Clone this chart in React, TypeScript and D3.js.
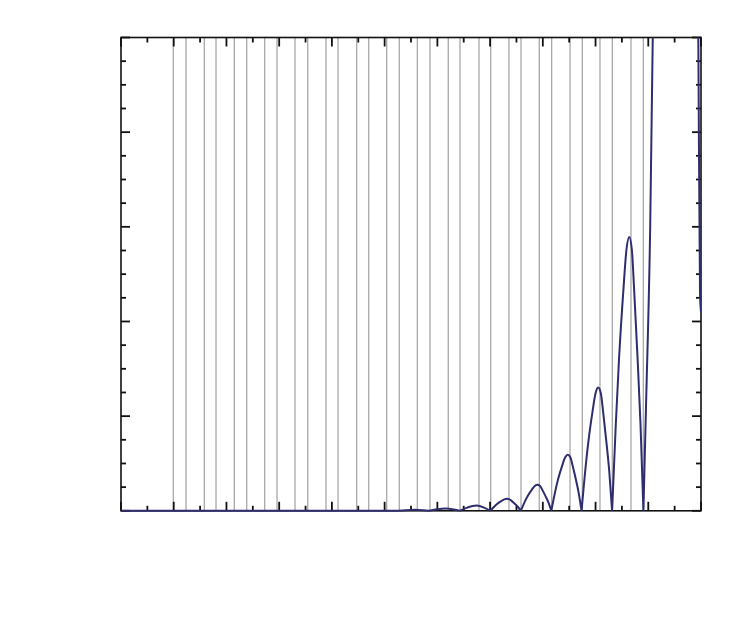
import React from "react";
import * as d3 from "d3";

// Axis tick values (labels are not shown in the reference)
const xMajorTicks = [0, 1, 2, 3, 4, 5, 6, 7, 8, 9, 10, 11];
const xMinorTicks = [0.5, 1.5, 2.5, 3.5, 4.5, 5.5, 6.5, 7.5, 8.5, 9.5, 10.5];
const yMajorTicks = [0, 1, 2, 3, 4, 5];
const yMinorTicks = [
  0.25, 0.5, 0.75, 1.25, 1.5, 1.75, 2.25, 2.5, 2.75, 3.25, 3.5, 3.75, 4.25, 4.5, 4.75,
];

// Vertical reference lines (pairs)
const gridLinesA = [
  0.992, 1.58, 2.149, 2.725, 3.3, 3.888, 4.47, 5.039, 5.62, 6.207, 6.79, 7.358, 7.933, 8.516,
  9.084, 9.672,
];
const gridLinesB = [
  1.233, 1.802, 2.384, 2.959, 3.541, 4.116, 4.698, 5.278, 5.86, 6.429, 7.012, 7.586, 8.168,
  8.749, 9.318, 9.906,
];

// Curve samples
const curveX = [
  0, 5.263,
  5.391, 5.579, 5.733, 5.841,
  5.97, 6.16, 6.315, 6.424,
  6.553, 6.741, 6.896, 7.004,
  7.072, 7.132, 7.211, 7.27, 7.32, 7.368, 7.412, 7.474, 7.529, 7.582,
  7.65, 7.711, 7.789, 7.848, 7.899, 7.947, 7.991, 8.053, 8.108, 8.161,
  8.228, 8.288, 8.366, 8.425, 8.474, 8.522, 8.566, 8.627, 8.681, 8.734,
  8.802, 8.863, 8.942, 9.001, 9.051, 9.099, 9.144, 9.206, 9.261, 9.314,
  9.384, 9.446, 9.527, 9.587, 9.639, 9.688, 9.733, 9.797, 9.853, 9.908,
  9.957, 10.037, 10.085, 10.15, 10.45, 10.75, 10.93, 10.949, 10.981, 11.0,
];
const curveY = [
  0, 0,
  0.006, 0.011, 0.006, 0,
  0.014, 0.025, 0.014, 0,
  0.031, 0.056, 0.031, 0,
  0.04, 0.071, 0.102, 0.121, 0.127, 0.121, 0.102, 0.071, 0.04, 0,
  0.087, 0.153, 0.221, 0.263, 0.275, 0.263, 0.221, 0.153, 0.087, 0,
  0.186, 0.33, 0.475, 0.565, 0.592, 0.565, 0.475, 0.33, 0.186, 0,
  0.41, 0.726, 1.046, 1.244, 1.303, 1.244, 1.046, 0.726, 0.41, 0,
  0.911, 1.611, 2.323, 2.763, 2.893, 2.763, 2.323, 1.611, 0.911, 0,
  1.1, 3.02, 5.0, 6.8, 10, 11, 6.2, 5.0, 2.3, 2.1,
];

const W = 737;
const H = 618;
const left = 121;
const right = 701;
const top = 37.5;
const bottom = 510.8;

export default function App() {
  const x = d3.scaleLinear().domain([0, 11]).range([left, right]);
  const y = d3.scaleLinear().domain([0, 5]).range([bottom, top]);

  // split the samples into lobes at the zero crossings
  const segments: [number, number][][] = [];
  let cur: [number, number][] = [];
  curveX.forEach((v, i) => {
    const p: [number, number] = [v, curveY[i]];
    cur.push(p);
    if (curveY[i] === 0 && cur.length > 1) {
      segments.push(cur);
      cur = [p];
    }
  });
  if (cur.length > 1) segments.push(cur);

  const line = d3
    .line<[number, number]>()
    .x((d) => x(d[0]))
    .y((d) => y(d[1]))
    .curve(d3.curveMonotoneX);

  const d = segments.map((s) => line(s) || "").join("");

  const majLen = 9;
  const minLen = 5;
  const axisColor = "#111";

  return (
    <svg
      width={W}
      height={H}
      style={{ position: "absolute", left: 0, top: 0, background: "#fff" }}
    >
      <defs>
        <clipPath id="plotClip">
          <rect x={left} y={top} width={right - left} height={bottom - top + 1.2} />
        </clipPath>
      </defs>
      <rect x={0} y={0} width={W} height={H} fill="#fff" />
      {/* vertical gray lines */}
      {[...gridLinesA, ...gridLinesB].map((v, i) => (
        <line
          key={"g" + i}
          x1={x(v)}
          x2={x(v)}
          y1={top}
          y2={bottom}
          stroke="#a8a8a8"
          strokeWidth={1.3}
        />
      ))}
      {/* frame */}
      <rect
        x={left}
        y={top}
        width={right - left}
        height={bottom - top}
        fill="none"
        stroke={axisColor}
        strokeWidth={1.6}
      />
      {/* x ticks (bottom & top) */}
      {xMajorTicks.map((v, i) => (
        <g key={"xm" + i}>
          <line x1={x(v)} x2={x(v)} y1={bottom} y2={bottom - majLen} stroke={axisColor} strokeWidth={1.8} />
          <line x1={x(v)} x2={x(v)} y1={top} y2={top + majLen} stroke={axisColor} strokeWidth={1.8} />
        </g>
      ))}
      {xMinorTicks.map((v, i) => (
        <g key={"xn" + i}>
          <line x1={x(v)} x2={x(v)} y1={bottom} y2={bottom - minLen} stroke={axisColor} strokeWidth={1.8} />
          <line x1={x(v)} x2={x(v)} y1={top} y2={top + minLen} stroke={axisColor} strokeWidth={1.8} />
        </g>
      ))}
      {/* y ticks (left & right) */}
      {yMajorTicks.map((v, i) => (
        <g key={"ym" + i}>
          <line x1={left} x2={left + majLen} y1={y(v)} y2={y(v)} stroke={axisColor} strokeWidth={1.8} />
          <line x1={right} x2={right - majLen} y1={y(v)} y2={y(v)} stroke={axisColor} strokeWidth={1.8} />
        </g>
      ))}
      {yMinorTicks.map((v, i) => (
        <g key={"yn" + i}>
          <line x1={left} x2={left + minLen} y1={y(v)} y2={y(v)} stroke={axisColor} strokeWidth={1.8} />
          <line x1={right} x2={right - minLen} y1={y(v)} y2={y(v)} stroke={axisColor} strokeWidth={1.8} />
        </g>
      ))}
      {/* curve */}
      <g clipPath="url(#plotClip)">
        <path d={d} fill="none" stroke="#2e2d6e" strokeWidth={2} strokeLinejoin="round" />
      </g>
    </svg>
  );
}
